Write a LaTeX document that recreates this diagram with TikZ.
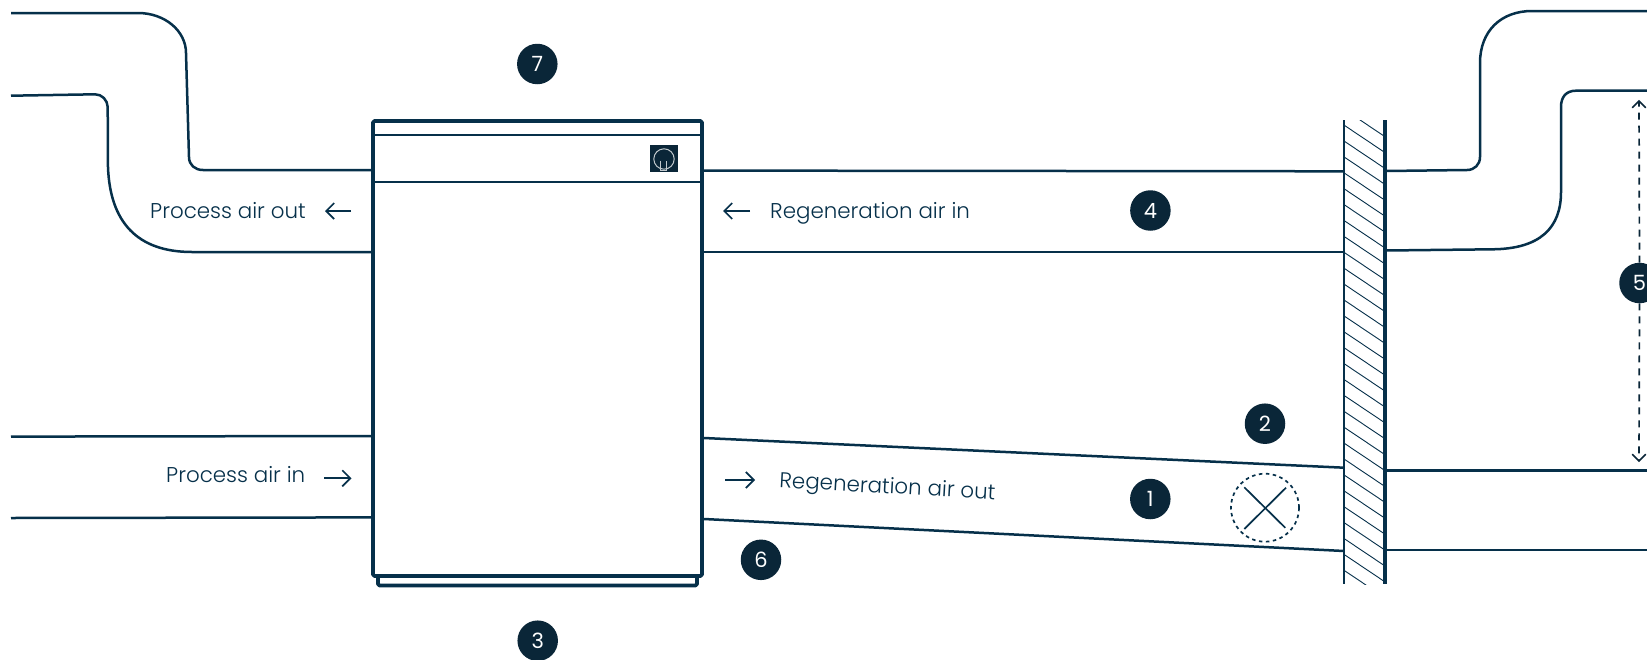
\documentclass[tikz,border=0pt]{standalone}
\usepackage{fontspec}
\setmainfont{Poppins}[UprightFont=* Light]
\newfontfamily\digitfont{Poppins}
\usetikzlibrary{arrows.meta}
\definecolor{duct}{HTML}{06304A}
\definecolor{badge}{HTML}{0A2638}
\tikzset{
  pipe/.style={draw=duct,line width=2.5pt,line join=round},
  casing/.style={draw=duct,line width=3.8pt,line join=round,rounded corners=1.5pt},
  flow/.style={draw=duct,line width=1.7pt,-{Straight Barb[length=8pt,width=16pt,line width=1.7pt]}},
  label/.style={text=duct,font=\fontsize{21.4}{24}\selectfont,inner sep=0pt},
  badgenode/.style={circle,fill=badge,text=white,minimum size=40.5pt,inner sep=0pt,font=\digitfont\fontsize{21}{24}\selectfont},
  hatchline/.style={draw=duct,line width=0.9pt},
  span/.style={draw=badge,line width=1.7pt,dash pattern=on 7pt off 6pt},
  spanhead/.style={draw=badge,line width=1.7pt,line cap=round,line join=miter}
}
\begin{document}
\begin{tikzpicture}[x=1pt,y=-1pt]
\useasboundingbox (0,0) rectangle (1647,659);
\fill[white] (0,0) rectangle (1647,659);

% wall hatch
\begin{scope}
\clip (1344,120) rectangle (1385,584);
\foreach \k in {-1,...,30}{
  \draw[hatchline] (1344,{109.2+15.9*\k}) -- (1385,{136.7+15.9*\k});
}
\end{scope}
\draw[pipe,line width=2.8pt] (1344,120) -- (1344,584);
\draw[pipe,line width=3.6pt] (1385,120) -- (1385,584);

% process air out duct
\draw[pipe] (11,13) -- (138,13) .. controls (165,13) and (186,31) .. (186,53) -- (189,157) .. controls (189,165) and (195,170) .. (203,170) -- (371,170);
\draw[pipe] (11,95.7) -- (95,94.3) .. controls (102,94.3) and (107.5,100) .. (107.7,107) -- (108,167) .. controls (110,222) and (137,252) .. (192,252) -- (371,252);

% process air in duct
\draw[pipe] (11,436.6) -- (371,436);
\draw[pipe] (11,518) -- (371,517.4);

% regeneration air in duct
\draw[pipe] (704,170.6) -- (1344,171.3);
\draw[pipe] (704,252) -- (1344,252);
\draw[pipe] (1386,171) -- (1467,170) .. controls (1474.5,170) and (1480,164.5) .. (1480,157) -- (1480,63) .. controls (1480,31) and (1501,11) .. (1532,11) -- (1647,11);
\draw[pipe] (1386,250.5) -- (1492,249.3) .. controls (1540,249) and (1561,228) .. (1561,192) -- (1561,107) .. controls (1561,97) and (1566,90.7) .. (1576,90.7) -- (1647,90.7);

% regeneration air out duct
\draw[pipe] (704,438) -- (1344,467.7);
\draw[pipe] (704,519) -- (1344,551);
\draw[pipe] (1386,470.3) -- (1647,470.3);
\draw[pipe] (1386,550) -- (1647,550);

% unit
\draw[casing] (373,121) rectangle (702,576);
\draw[pipe,line width=1.9pt] (375,135) -- (700,135);
\draw[pipe,line width=2.1pt] (375,181.7) -- (700,181.7);
\draw[casing] (378,576) -- (378,585.5) -- (697,585.5) -- (697,576);
\fill[badge] (650,145) rectangle (678,171.7);
\draw[white!75!badge,line width=1pt] (664,159) circle (10.2);
\draw[white!75!badge,line width=1pt] (660.5,160.5) -- (660.5,170.5) -- (666.5,170.5) -- (666.5,160.5);

% fan
\draw[draw=duct,line width=1.7pt,dash pattern=on 3.5pt off 3.5pt] (1265,507.7) circle (34);
\draw[draw=duct,line width=1.7pt] (1244.3,487.3) -- (1285.3,527.8);
\draw[draw=duct,line width=1.7pt] (1286,487.7) -- (1244.3,529);

% labels and flow arrows
\node[label,anchor=base west] (tpo) at (150,218.3) {Process air out};
\node[label,anchor=base west] (tpi) at (166,482.3) {Process air in};
\node[label,anchor=base west] (tri) at (770,218.3) {Regeneration air in};
\node[label,anchor=base west,rotate=-3.2] (tro) at (779,487.5) {Regeneration air out};
\coordinate (a1) at (351,211); \coordinate (a2) at (325,211);
\coordinate (b1) at (324,478.3); \coordinate (b2) at (351.5,478.3);
\coordinate (c1) at (750,211); \coordinate (c2) at (723,211);
\coordinate (d1) at (725,480); \coordinate (d2) at (755,480);
\draw[flow] (a1) -- (a2);
\draw[flow] (b1) -- (b2);
\draw[flow] (c1) -- (c2);
\draw[flow] (d1) -- (d2);

% badges
\node[badgenode] (n7) at (537.3,64) {7};
\node[badgenode] (n3) at (537.7,640.7) {3};
\node[badgenode] (n6) at (761,559.8) {6};
\node[badgenode] (n2) at (1265,423.7) {2};
\node[badgenode] (n1) at (1150.3,499) {1};
\node[badgenode] (n4) at (1150.4,210.5) {4};
\node[badgenode] (n5) at (1639.5,283) {5};

% height dimension
\coordinate (up) at (1639,101);
\coordinate (dn) at (1639,461);
\draw[span] (n5.north) -- (up);
\draw[span] (n5.south) -- (dn);
\draw[spanhead] (1632.5,107.5) -- (up) -- (1645.5,107.5);
\draw[spanhead] (1632.5,454.5) -- (dn) -- (1645.5,454.5);
\end{tikzpicture}
\end{document}
